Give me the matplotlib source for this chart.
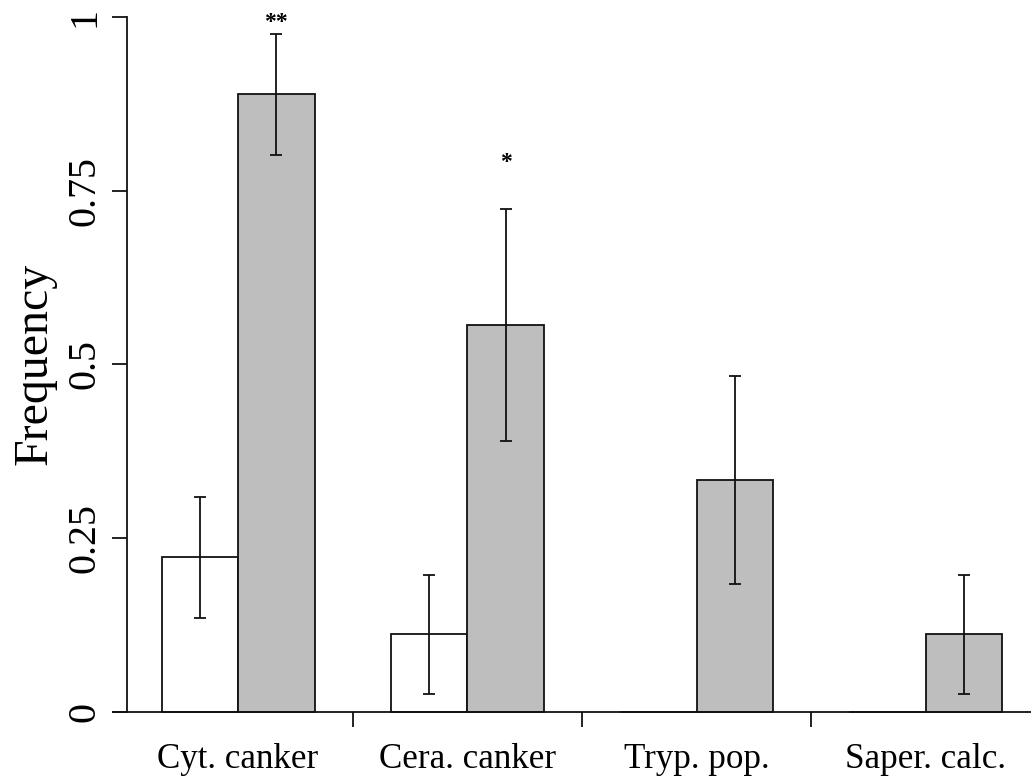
import matplotlib
matplotlib.use("Agg")
import matplotlib.pyplot as plt
import numpy as np

# Frequencies per pathogen, two groups per category (white / grey bars)
categories = ["Cyt. canker", "Cera. canker", "Tryp. pop.", "Saper. calc."]
freq_white = [0.222, 0.111, 0.0, 0.0]
err_white = [0.087, 0.086, 0.0, 0.0]
freq_grey = [0.889, 0.556, 0.333, 0.111]
err_grey = [0.087, 0.167, 0.150, 0.086]
signif = ["**", "*", "", ""]
signif_y = [1.003, 0.801, 0.0, 0.0]
yticks = [0, 0.25, 0.5, 0.75, 1]
ytick_labels = ["0", "0.25", "0.5", "0.75", "1"]

plt.rcParams["font.family"] = ["Liberation Serif", "DejaVu Serif"]

W, H = 1031, 778
fig = plt.figure(figsize=(W / 100, H / 100), dpi=100)
ax = fig.add_axes([0, 0, 1, 1])
ax.set_facecolor("none")

# Pixel geometry of the plotting frame (R-style barplot, space = c(0, 1))
x0_px, unit_px = 85.3, 76.4
y0_px, yunit_px = 711.5, 694.5
ax.set_xlim(-x0_px / unit_px, (W - x0_px) / unit_px)
ax.set_ylim((y0_px - H) / yunit_px, y0_px / yunit_px)

n = len(categories)
grp = np.arange(n) * 3
x_white = grp + 1.5
x_grey = grp + 2.5

lw = 1.3
ax.bar(x_white, freq_white, width=1.0, color="white", edgecolor="#111111",
       linewidth=lw, zorder=2)
ax.bar(x_grey, freq_grey, width=1.0, color="#bebebe", edgecolor="#111111",
       linewidth=lw, zorder=2)

ew = np.array(err_white)
eg = np.array(err_grey)
mw = ew > 0
mg = eg > 0
ax.errorbar(x_white[mw], np.array(freq_white)[mw], yerr=ew[mw], fmt="none",
            ecolor="#111111", elinewidth=lw, capsize=4.3, capthick=lw, zorder=3)
ax.errorbar(x_grey[mg], np.array(freq_grey)[mg], yerr=eg[mg], fmt="none",
            ecolor="#111111", elinewidth=lw, capsize=4.3, capthick=lw, zorder=3)

star_fs = 17
for xi, s, sy in zip(x_grey, signif, signif_y):
    if s:
        ax.annotate(s, xy=(xi, sy), xytext=(0, -0.54 * star_fs),
                    textcoords="offset points", ha="center", va="baseline",
                    fontsize=star_fs, color="black", fontweight="bold")

# Axes styling
for side in ("top", "right"):
    ax.spines[side].set_visible(False)
ax.spines["left"].set_position(("data", (127.3 - x0_px) / unit_px))
ax.spines["left"].set_bounds(0, 1)
ax.spines["bottom"].set_position(("data", 0))
ax.spines["bottom"].set_bounds((112.7 - x0_px) / unit_px, ax.get_xlim()[1])
for side in ("left", "bottom"):
    ax.spines[side].set_linewidth(lw)
    ax.spines[side].set_color("#111111")

ax.set_yticks(yticks)
ax.set_yticklabels(ytick_labels)
ax.tick_params(axis="y", direction="out", length=10.5, width=lw, pad=6.5,
               labelsize=28.8, labelrotation=90, color="#111111")
for t in ax.get_yticklabels():
    t.set_va("center")

ax.set_xticks(grp[1:] + 0.5)
ax.set_xticklabels([""] * (n - 1))
ax.set_xticks(grp + 2, minor=True)
ax.set_xticklabels(categories, minor=True)
ax.tick_params(axis="x", which="major", direction="out", length=10.5, width=lw,
               color="#111111")
ax.tick_params(axis="x", which="minor", length=0, pad=22.5, labelsize=25.2)

fig.text(47 / W, 1 - 364 / H, "Frequency", rotation=90, rotation_mode="anchor",
         ha="center", va="baseline", fontsize=34.5)

fig.savefig("out.png", dpi=100, facecolor="white")
